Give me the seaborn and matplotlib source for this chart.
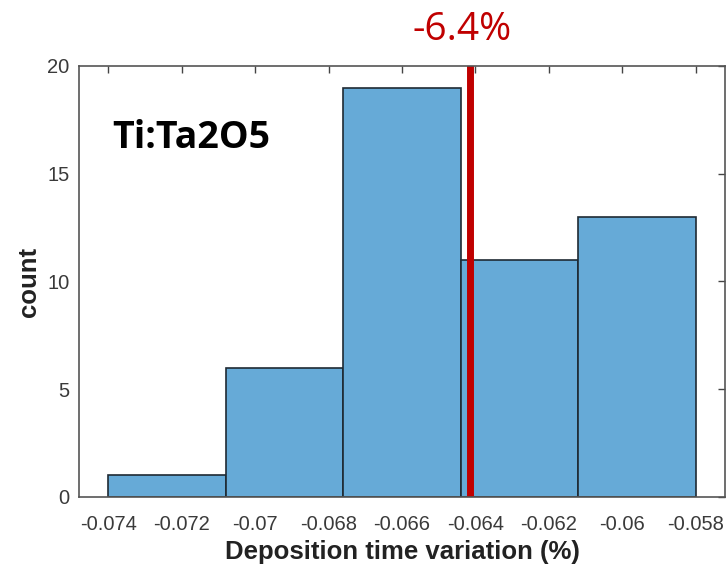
import matplotlib
matplotlib.use("Agg")
import matplotlib.pyplot as plt
import seaborn as sns
import numpy as np

bin_edges = [-0.074, -0.0708, -0.0676, -0.0644, -0.0612, -0.058]
counts = [1, 6, 19, 11, 13]
mean_value = -0.06415
x_ticks = [-0.074, -0.072, -0.07, -0.068, -0.066, -0.064, -0.062, -0.06, -0.058]
x_tick_labels = ["-0.074", "-0.072", "-0.07", "-0.068", "-0.066", "-0.064", "-0.062", "-0.06", "-0.058"]
y_ticks = [0, 5, 10, 15, 20]
label_text = "Ti:Ta2O5"
mean_label = "-6.4%"

sns.set_theme(style="white")
plt.rcParams['font.family'] = ['Liberation Sans', 'DejaVu Sans']

fig = plt.figure(figsize=(7.28, 5.64), dpi=100)
ax = fig.add_axes([0.1085, 0.1188, 0.8874, 0.7642])

centers = [(bin_edges[i] + bin_edges[i + 1]) / 2 for i in range(len(counts))]
sns.histplot(x=centers, weights=counts, bins=bin_edges, ax=ax,
             color="#66AAD7", alpha=1.0, edgecolor="#1f2a33", linewidth=1.2)

ax.axvline(mean_value, color="#C00000", linewidth=5)

ax.set_xlim(-0.0748, -0.0572)
ax.set_ylim(0, 20)
ax.set_xticks(x_ticks)
ax.set_xticklabels(x_tick_labels)
ax.set_yticks(y_ticks)
ax.tick_params(axis="both", direction="in", length=5, width=1, colors="#444444",
               labelsize=14.5, top=True, right=True, labelcolor="#3a3a3a")
ax.tick_params(axis="x", pad=13)
ax.tick_params(axis="y", pad=7)
for s in ax.spines.values():
    s.set_visible(True)
    s.set_color("#555555")
    s.set_linewidth(1.2)

ax.set_xlabel("Deposition time variation (%)", fontsize=18.5, fontweight="bold", color="#222222", labelpad=4)
ax.set_ylabel("count", fontsize=18.5, fontweight="bold", color="#222222", labelpad=4)

ax.text(0.052, 0.832, label_text, transform=ax.transAxes, fontsize=27, fontweight="bold",
        family=["Open Sans", "DejaVu Sans"], color="black", va="center", ha="left")
fig.text(462 / 728, 1 - 30 / 564, mean_label, fontsize=28, color="#C00000",
         family=["Open Sans", "DejaVu Sans"], ha="center", va="center")

fig.savefig("out.png", dpi=100)
